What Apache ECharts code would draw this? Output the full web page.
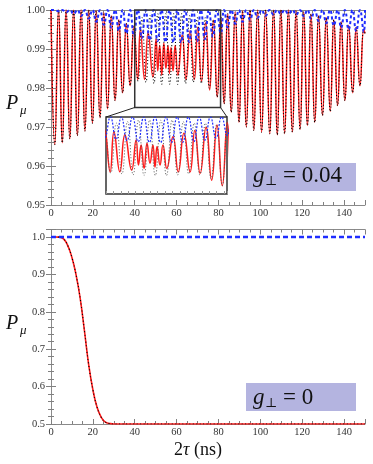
<!DOCTYPE html>
<html><head><meta charset="utf-8">
<script src="https://cdn.jsdelivr.net/npm/echarts@6/dist/echarts.min.js"></script>
<style>html,body{margin:0;padding:0;background:#fff}#c{width:373px;height:464px}</style>
</head><body><div id="c"></div>
<script>
// ---------- Top panel (g_perp = 0.04), x = 2tau (ns), y = P_mu ----------
// red solid curve: local maxima and minima
const redMaxX = [0, 3.6, 7.2, 10.8, 14.4, 18.0, 21.6, 25.2, 28.8, 32.4, 36.0, 39.6, 42.7, 46.4, 50.2, 51.9, 53.9, 55.9, 57.3, 59.3, 62.7, 66.4, 70.1, 73.9, 77.6, 81.1, 84.4, 88.0, 91.5, 95.1, 98.7, 102.5, 106.3, 109.8, 113.4, 117.1, 120.7, 124.2, 127.8, 131.5, 135.1, 138.6, 142.2, 145.8, 149.4];
const redMaxY = [1.0, 1.0, 1.0, 1.0, 1.0, 1.0, 0.9998, 0.9993, 0.9985, 0.9975, 0.9965, 0.9958, 0.9952, 0.9942, 0.9925, 0.9909, 0.9915, 0.9909, 0.9904, 0.9909, 0.9936, 0.9947, 0.9956, 0.9967, 0.9974, 0.9982, 0.999, 0.9995, 0.9998, 1.0, 1.0, 1.0, 1.0, 1.0, 1.0, 0.9998, 0.9995, 0.999, 0.9985, 0.998, 0.9975, 0.997, 0.996, 0.9955, 0.995];
const redMinX = [1.8, 5.4, 9.0, 12.6, 16.2, 19.8, 23.4, 27.0, 30.6, 34.2, 37.8, 41.4, 44.7, 48.7, 51.0, 52.9, 54.9, 56.6, 58.3, 60.6, 64.5, 68.5, 71.9, 75.8, 79.4, 82.7, 86.1, 89.8, 93.3, 96.9, 100.6, 104.5, 108.1, 111.6, 115.3, 119.0, 122.5, 126.0, 129.7, 133.4, 136.9, 140.4, 144.1, 147.6];
const redMinY = [0.9655, 0.966, 0.967, 0.9678, 0.969, 0.971, 0.9724, 0.9747, 0.9768, 0.9788, 0.9806, 0.9822, 0.9822, 0.9828, 0.9844, 0.9833, 0.985, 0.9837, 0.9844, 0.9833, 0.9822, 0.9822, 0.9817, 0.9795, 0.9777, 0.976, 0.9738, 0.9712, 0.970, 0.9691, 0.9687, 0.9683, 0.968, 0.9683, 0.9687, 0.9694, 0.9704, 0.9712, 0.973, 0.974, 0.9755, 0.9768, 0.9788, 0.9806];
const redEnd = [150, 0.994];
// black dotted curve: same as red outside 40-79 ns, its own extrema inside
const blackMidFrom = 39.6, blackMidTo = 79.4;
const blackMidMaxX = [43.5, 47.3, 51.0, 54.8, 58.6, 62.4, 66.2, 69.9, 73.7, 77.5];
const blackMidMaxY = [0.998, 0.9985, 0.999, 0.999, 0.999, 0.999, 0.9985, 0.998, 0.998, 0.9975];
const blackMidMinX = [41.6, 45.4, 49.2, 52.9, 56.7, 60.5, 64.3, 68.0, 71.8, 75.6];
const blackMidMinY = [0.9818, 0.9815, 0.9812, 0.981, 0.981, 0.981, 0.9812, 0.9815, 0.9812, 0.98];
// blue dashed curve
const blueMaxLevel = 1.0;
const blueMaxX = [0, 1.8, 5.4, 9.0, 12.6, 16.2, 19.8, 23.4, 27.0, 30.6, 34.2, 37.8, 41.5, 45.2, 49.0, 52.8, 56.6, 60.3, 64.1, 67.9, 71.6, 75.4, 79.2, 82.7, 86.2, 89.8, 93.3, 96.9, 100.6, 104.4, 108.0, 111.6, 115.3, 118.9, 122.5, 126.0, 129.7, 133.3, 136.9, 140.4, 144.0, 147.6, 150];
const blueMinX = [3.6, 7.2, 10.8, 14.4, 18.0, 21.6, 25.2, 28.8, 32.4, 36.0, 39.6, 43.4, 47.1, 50.9, 54.7, 58.5, 62.2, 66.0, 69.8, 73.5, 77.3, 81.1, 84.4, 88.0, 91.5, 95.1, 98.7, 102.5, 106.3, 109.8, 113.4, 117.1, 120.7, 124.2, 127.8, 131.5, 135.1, 138.6, 142.2, 145.8, 149.4];
const blueMinY = [0.9997, 0.9994, 0.999, 0.9985, 0.9978, 0.997, 0.9962, 0.9955, 0.9947, 0.994, 0.9933, 0.9928, 0.9923, 0.992, 0.9918, 0.9917, 0.9917, 0.9918, 0.992, 0.9925, 0.9932, 0.994, 0.9955, 0.9965, 0.997, 0.9975, 0.998, 0.9985, 0.9988, 0.999, 0.999, 0.9988, 0.9984, 0.9978, 0.9972, 0.9966, 0.996, 0.9955, 0.995, 0.9946, 0.9944];
// zoom window shown in the inset
const zoomX = [40, 81];
const zoomY = [0.975, 1.0];

// ---------- Bottom panel (g_perp = 0) ----------
const botX = [0, 2, 4, 6, 8, 10, 12, 14, 16, 18, 20, 22, 24, 26, 28, 30, 150];
const botY = [1.0, 1.0, 0.9995, 0.995, 0.977, 0.945, 0.898, 0.834, 0.748, 0.659, 0.592, 0.545, 0.518, 0.505, 0.5015, 0.5, 0.5];
const botBlueX = [0, 150];
const botBlueY = [1.0, 1.0];

// ---------- build point lists ----------
function zip(xs, ys) { return xs.map((x, i) => [x, ys[i]]); }
const byX = (a, b) => a[0] - b[0];
const redData = zip(redMaxX, redMaxY).concat(zip(redMinX, redMinY), [redEnd]).sort(byX);
const blackData = redData.filter(p => p[0] <= blackMidFrom || p[0] >= blackMidTo)
  .concat(zip(blackMidMaxX, blackMidMaxY), zip(blackMidMinX, blackMidMinY)).sort(byX);
const blueData = blueMaxX.map(x => [x, blueMaxLevel]).concat(zip(blueMinX, blueMinY)).sort(byX);
const botData = zip(botX, botY);
const botBlue = zip(botBlueX, botBlueY);

const FONT = '"Liberation Serif","DejaVu Serif",serif';
const TICK = '#808080';

function ax(o) {
  const base = {
    type: 'value', axisLine: { show: true, lineStyle: { color: '#8a8a8a', width: 1 } },
    axisTick: { show: true, inside: true, length: 5, lineStyle: { color: TICK } },
    minorTick: { show: true, length: 3, lineStyle: { color: TICK } },
    splitLine: { show: false }, minorSplitLine: { show: false },
    axisLabel: { show: false, fontFamily: FONT, fontSize: 10.5, color: '#333' }
  };
  const r = Object.assign(base, o);
  if (o.labelExtra) { r.axisLabel = Object.assign(base.axisLabel, { show: true }, o.labelExtra); delete r.labelExtra; }
  if (o.minorSplit) { r.minorTick = Object.assign({}, base.minorTick, { splitNumber: o.minorSplit }); delete r.minorSplit; }
  return r;
}

const xAxis = [
  ax({ gridIndex: 0, position: 'bottom', min: 0, max: 150, interval: 20, minorSplit: 4, labelExtra: { margin: 3, showMaxLabel: false } }),
  ax({ gridIndex: 0, position: 'top', min: 0, max: 150, interval: 20, minorSplit: 4 }),
  ax({ gridIndex: 1, position: 'bottom', min: 0, max: 150, interval: 20, minorSplit: 4, labelExtra: { margin: 3, showMaxLabel: false } }),
  ax({ gridIndex: 1, position: 'top', min: 0, max: 150, interval: 20, minorSplit: 4 }),
  ax({ gridIndex: 2, position: 'bottom', min: zoomX[0], max: zoomX[1], interval: 10, minorSplit: 4, z: 7,
       axisLine: { show: false }, axisTick: { show: true, inside: true, length: 3, lineStyle: { color: '#999' } },
       minorTick: { show: true, splitNumber: 4, length: 3, lineStyle: { color: '#999' } } })
];
const yAxis = [
  ax({ gridIndex: 0, position: 'left', min: 0.95, max: 1.0, interval: 0.01, minorSplit: 5, labelExtra: { margin: 6, formatter: v => v.toFixed(2) } }),
  ax({ gridIndex: 0, position: 'right', min: 0.95, max: 1.0, interval: 0.01, minorSplit: 5 }),
  ax({ gridIndex: 1, position: 'left', min: 0.5, max: 1.02, interval: 0.1, minorSplit: 5, labelExtra: { margin: 6, showMaxLabel: false, formatter: v => v.toFixed(1) } }),
  ax({ gridIndex: 1, position: 'right', min: 0.5, max: 1.02, interval: 0.1, minorSplit: 5 }),
  ax({ gridIndex: 2, position: 'left', min: zoomY[0], max: zoomY[1], interval: 0.005, minorSplit: 1, z: 7,
       axisLine: { show: false }, axisTick: { show: false }, minorTick: { show: false } })
];

const RED = '#ff1a1a', BLUE = '#1f2dff';
function line(data, xi, yi, style, z, smooth) {
  return { type: 'line', xAxisIndex: xi, yAxisIndex: yi, data: data, showSymbol: false, symbol: 'none',
           smooth: smooth, lineStyle: style, z: z, silent: true, clip: true, animation: false };
}
const series = [
  line(redData, 0, 0, { color: RED, width: 1.5 }, 2, 0.5),
  line(blackData, 0, 0, { color: '#000', width: 1.1, type: [1, 2.2] }, 3, 0.5),
  line(blueData, 0, 0, { color: BLUE, width: 2, type: [3, 2.5] }, 4, 0.5),
  line(botBlue, 2, 2, { color: BLUE, width: 2.5, type: [5, 3] }, 4, false),
  line(botData, 2, 2, { color: RED, width: 1.6 }, 2, 0.5),
  line(botData, 2, 2, { color: '#000', width: 1.1, type: [1, 2.5] }, 3, 0.5),
  line(redData, 4, 4, { color: RED, width: 1.5 }, 8, 0.5),
  line(blackData, 4, 4, { color: '#555', width: 1, type: [1, 2] }, 9, 0.5),
  line(blueData, 4, 4, { color: BLUE, width: 1.2, type: [2, 1.5] }, 10, 0.5)
];

const chart = echarts.init(document.getElementById('c'), null, { renderer: 'canvas' });
chart.setOption({
  animation: false,
  grid: [
    { left: 51, top: 10, width: 314, height: 195 },
    { left: 51, top: 229.5, width: 314, height: 194.5 },
    { left: 106, top: 117, width: 121, height: 77, show: true, backgroundColor: '#fff', borderColor: '#333', borderWidth: 1.5, z: 5 }
  ],
  xAxis: xAxis, yAxis: yAxis, series: series
});

// annotation graphics positioned through the axes
const p = (gi, v) => chart.convertToPixel({ gridIndex: gi }, v);
const a = p(0, [zoomX[0], zoomY[1]]), b = p(0, [zoomX[1], zoomY[0]]);
const ia = p(2, [zoomX[0], zoomY[1]]), ib = p(2, [zoomX[1], zoomY[1]]);
const txt = (x, y, s, size, italic, extra) => ({ type: 'text', x: x, y: y, z: 20,
  style: Object.assign({ text: s, font: (italic ? 'italic ' : '') + size + 'px ' + FONT, fill: '#111', verticalAlign: 'middle' }, extra || {}) });
chart.setOption({
  graphic: [
    { type: 'rect', z: 20, shape: { x: a[0], y: a[1], width: b[0] - a[0], height: b[1] - a[1] }, style: { fill: 'none', stroke: '#333', lineWidth: 1.5 } },
    { type: 'line', z: 20, shape: { x1: a[0], y1: b[1], x2: ia[0], y2: ia[1] }, style: { stroke: '#222', lineWidth: 1 } },
    { type: 'line', z: 20, shape: { x1: b[0], y1: b[1], x2: ib[0], y2: ib[1] }, style: { stroke: '#222', lineWidth: 1 } },
    { type: 'rect', z: 19, shape: { x: 246, y: 163, width: 110, height: 28 }, style: { fill: '#b4b4e0' } },
    { type: 'rect', z: 19, shape: { x: 246, y: 383, width: 110, height: 28 }, style: { fill: '#b4b4e0' } },
    txt(253, 176, 'g', 23, true), txt(265, 182, '⊥', 13, false), txt(283, 176, '= 0.04', 23, false),
    txt(253, 398, 'g', 23, true), txt(265, 404, '⊥', 13, false), txt(283, 398, '= 0', 23, false),
    txt(6, 104, 'P', 20, true), txt(20, 111, 'μ', 13, true),
    txt(6, 324, 'P', 20, true), txt(20, 331, 'μ', 13, true),
    txt(198, 450, '2τ (ns)', 18, false, { align: 'center', rich: {} , text: '{n|2}{t|τ}{n| (ns)}',
      rich: { n: { font: '18px ' + FONT, fill: '#111' }, t: { font: 'italic 18px ' + FONT, fill: '#111' } } })
  ]
});
</script></body></html>
